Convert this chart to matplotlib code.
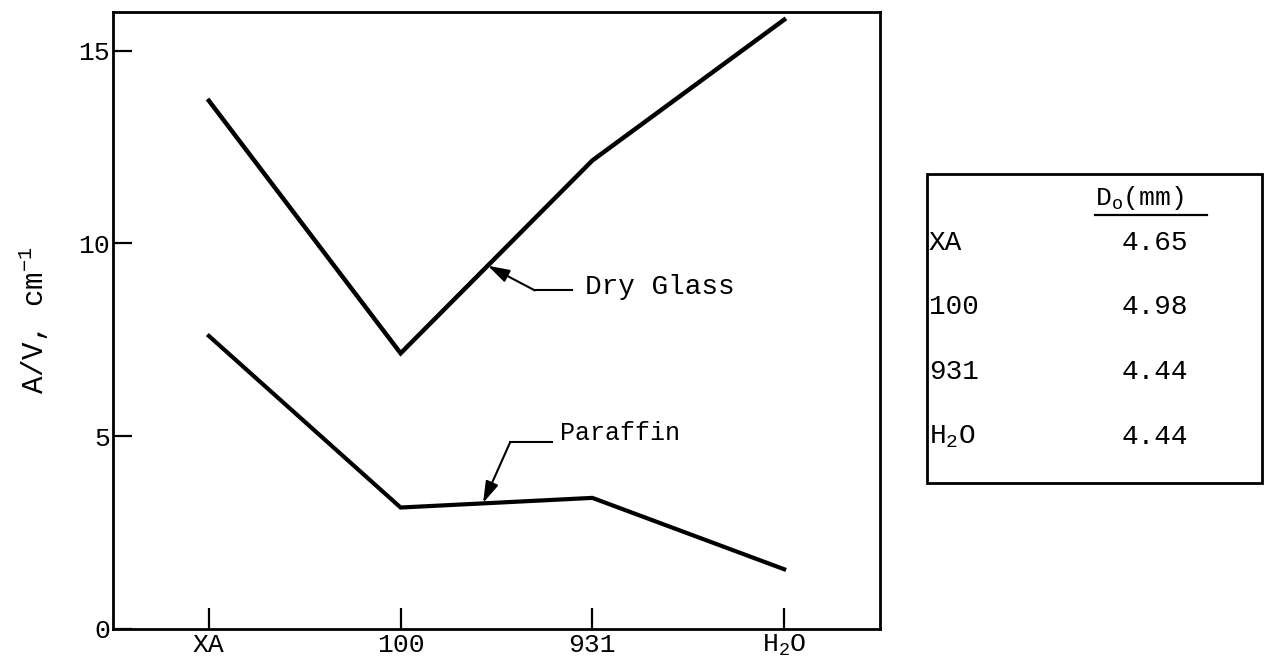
import matplotlib
matplotlib.use("Agg")
import matplotlib.pyplot as plt
from matplotlib.patches import Rectangle
from matplotlib.lines import Line2D

plt.rcParams['font.family'] = ['Liberation Mono', 'DejaVu Sans Mono']
plt.rcParams['mathtext.fontset'] = 'custom'
plt.rcParams['mathtext.rm'] = 'Liberation Mono'
plt.rcParams['mathtext.it'] = 'Liberation Mono'

# glass types along the x axis
samples = ['XA', '100', '931', r'$\mathrm{H_2O}$']
# A/V in cm^-1
dry_glass = [13.7, 7.15, 12.15, 15.8]
paraffin = [7.6, 3.15, 3.4, 1.55]

# table of D_o per glass
table_rows = ['XA', '100', '931', r'$\mathrm{H_2O}$']
d_o = ['4.65', '4.98', '4.44', '4.44']

# label placement (data coords): arrow tip, bend, tail end, text
dry_tip, dry_bend, dry_tail, dry_text = (1.455, 9.42), (1.70, 8.78), (1.895, 8.78), (1.96, 8.88)
par_tip, par_bend, par_tail, par_text = (1.43, 3.27), (1.571, 4.84), (1.79, 4.84), (1.83, 5.08)

fig = plt.figure(figsize=(12.65, 6.68), dpi=100)
ax = fig.add_axes([113 / 1265, 1 - 629 / 668, (880 - 113) / 1265, (629 - 12) / 668])

x = range(len(samples))
ax.plot(x, dry_glass, color='black', lw=3.2, solid_joinstyle='miter')
ax.plot(x, paraffin, color='black', lw=3.0, solid_joinstyle='miter')

ax.set_xlim(-0.5, 3.5)
ax.set_ylim(0, 16)
ax.set_xticks(list(x))
ax.set_xticklabels(samples, fontsize=19)
ax.set_yticks([0, 5, 10, 15])
ax.set_yticklabels(['0', '5', '10', '15'], fontsize=19)
ax.tick_params(axis='x', direction='in', length=15, width=1.6, pad=3)
ax.tick_params(axis='y', direction='in', length=14, width=1.6, pad=2)
for s in ax.spines.values():
    s.set_linewidth(2.0)
ax.set_ylabel(r'A/V, cm$^{-1}$', fontsize=21, labelpad=20)

# annotation leaders
for tip, bend, tail, txt, label, fs in [(dry_tip, dry_bend, dry_tail, dry_text, 'Dry Glass', 20),
                                        (par_tip, par_bend, par_tail, par_text, 'Paraffin', 18)]:
    ax.plot([bend[0], tail[0]], [bend[1], tail[1]], color='black', lw=1.5)
    ax.annotate('', xy=tip, xytext=bend,
                arrowprops=dict(arrowstyle='-|>,head_length=1.3,head_width=0.4',
                                color='black', lw=1.5, shrinkA=0, shrinkB=0))
    ax.text(txt[0], txt[1], label, fontsize=fs, va='center', ha='left')

# D_o table at the right
W, H = 1265, 668
fig.add_artist(Rectangle((927 / W, 1 - 483 / H), (1262 - 927) / W, (483 - 174) / H,
                         transform=fig.transFigure, fill=False, lw=2.0, ec='black'))
fig.text(1095 / W, 1 - 198 / H, r'D$_\mathrm{o}$(mm)', fontsize=19, ha='left', va='center')
fig.add_artist(Line2D([1095 / W, 1207 / W], [1 - 215 / H, 1 - 215 / H],
                      transform=fig.transFigure, color='black', lw=1.6))
row_y = [243, 307, 372, 437]
for name, val, yy in zip(table_rows, d_o, row_y):
    fig.text(929 / W, 1 - yy / H, name, fontsize=20, ha='left', va='center')
    fig.text(1155 / W, 1 - yy / H, val, fontsize=20, ha='center', va='center')

fig.savefig('out.png', dpi=100)
